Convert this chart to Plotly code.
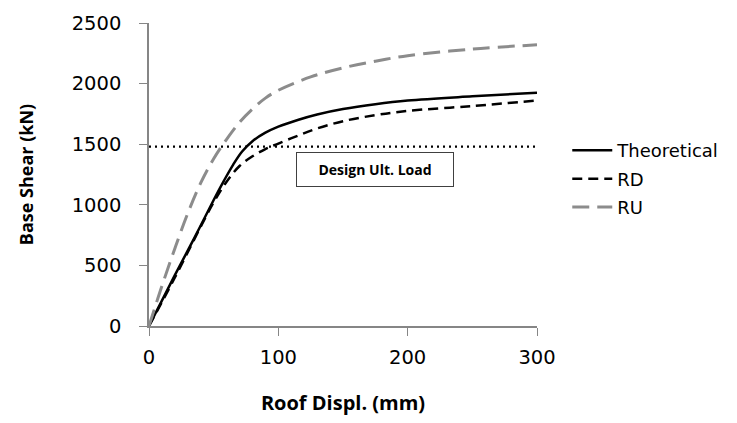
import plotly.graph_objects as go

# Data
theo_x = [0, 20, 35, 50, 58, 65, 72, 80, 90, 100, 115, 130, 150, 175, 200, 250, 300]
theo_y = [0, 420, 725, 1040, 1200, 1330, 1440, 1525, 1595, 1645, 1700, 1745, 1790, 1830, 1860, 1895, 1925]

rd_x = [0, 20, 40, 50, 60, 70, 80, 90, 100, 115, 130, 150, 175, 200, 250, 300]
rd_y = [0, 400, 820, 1020, 1190, 1320, 1400, 1460, 1505, 1570, 1630, 1690, 1740, 1775, 1815, 1860]

ru_x = [0, 10, 20, 30, 40, 50, 60, 70, 80, 90, 100, 125, 150, 175, 200, 250, 300]
ru_y = [0, 330, 640, 930, 1180, 1380, 1540, 1680, 1790, 1880, 1945, 2055, 2130, 2185, 2230, 2285, 2320]

design_load = 1480
design_x = [0, 300]
x_ticks = [0, 100, 200, 300]
y_ticks = [0, 500, 1000, 1500, 2000, 2500]

fig = go.Figure()
fig.add_trace(go.Scatter(x=theo_x, y=theo_y, mode="lines", name="Theoretical",
                         line=dict(color="black", width=2.5, shape="spline", smoothing=1),
                         legendgroup="a"))
fig.add_trace(go.Scatter(x=rd_x, y=rd_y, mode="lines", name="RD",
                         line=dict(color="black", width=2.5, dash="10px,6px", shape="spline", smoothing=1),
                         legendgroup="b"))
fig.add_trace(go.Scatter(x=ru_x, y=ru_y, mode="lines", name="RU",
                         line=dict(color="#8c8c8c", width=3, dash="17px,8px", shape="spline", smoothing=1),
                         legendgroup="c"))
fig.add_trace(go.Scatter(x=design_x, y=[design_load] * 2, mode="lines", showlegend=False,
                         line=dict(color="black", width=2.2, dash="2px,4px")))

fig.add_annotation(x=175, y=1295, xref="x", yref="y", text="<b>Design Ult. Load</b>",
                   showarrow=False, font=dict(family="Open Sans", size=14, color="black"),
                   width=150, height=27, borderpad=3,
                   bordercolor="#404040", borderwidth=1, bgcolor="white")

tickfont = dict(family="DejaVu Sans", size=19.5, color="black")
fig.update_layout(
    width=737, height=423,
    margin=dict(l=149, r=200, t=20, b=95),
    plot_bgcolor="white", paper_bgcolor="white",
    showlegend=True,
    legend=dict(x=1.078, y=0.64, xanchor="left", yanchor="top",
                font=dict(family="DejaVu Sans", size=18, color="black"),
                itemwidth=40, tracegroupgap=2, traceorder="grouped",
                bgcolor="rgba(0,0,0,0)"),
    xaxis=dict(range=[0, 300], tickvals=x_ticks, showline=True, linecolor="#868686", linewidth=1.5,
               ticks="outside", ticklen=8, tickcolor="#868686", showgrid=False, zeroline=False,
               tickfont=tickfont, ticklabelstandoff=5,
               title=dict(text="<b>Roof Displ. (mm)</b>", font=dict(family="Open Sans", size=20, color="black"),
                          standoff=28)),
    yaxis=dict(range=[0, 2500], tickvals=y_ticks, showline=True, linecolor="#868686", linewidth=1.5,
               ticks="outside", ticklen=8, tickcolor="#868686", showgrid=False, zeroline=False,
               tickfont=tickfont, ticklabelstandoff=14,
               title=dict(text="<b>Base Shear (kN)</b>", font=dict(family="Open Sans", size=18, color="black"),
                          standoff=33)),
)

fig.write_html("out.html")
